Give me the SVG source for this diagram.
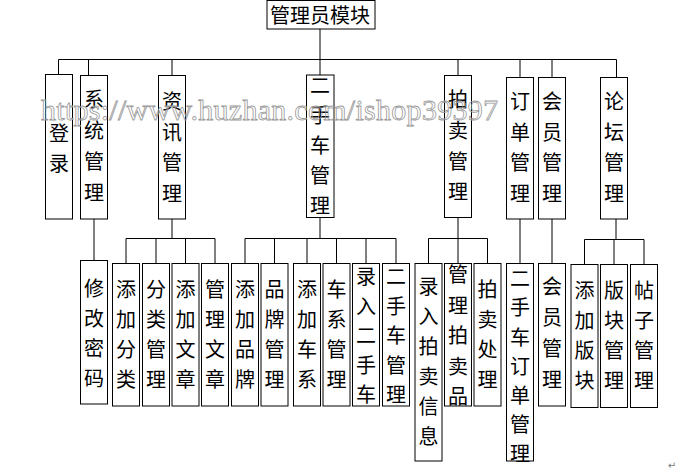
<svg xmlns="http://www.w3.org/2000/svg" width="693" height="472" viewBox="0 0 693 472">
<style>
.b{fill:#fff;stroke:#000;stroke-width:1}
.t{font-family:"Noto Sans CJK SC","Noto Sans CJK JP",sans-serif;font-size:20px;fill:#000;text-anchor:middle;dominant-baseline:central}
.c{fill:none;stroke:#000;stroke-width:1}
.wm{font-family:"Liberation Serif",serif;font-size:30px;fill:none;stroke:#999;stroke-width:0.8}
</style>
<rect width="693" height="472" fill="#fff"/>
<g id="connectors" class="c">
<path d="M320,29V75M58.5,59.5H616.5M58.5,59.5V74.5M88.5,59.5V75.5M172,59.5V75.5M458,59.5V75.5M520,59.5V77.5M552,59.5V77.5M616.5,59.5V77.5"/>
<path d="M94,219V260.5"/>
<path d="M172,219V238.5M126,238.5H215M126,238.5V263.5M156,238.5V263.5M185.5,238.5V263.5M215,238.5V263.5"/>
<path d="M320,217V238.5M245,238.5H396M245,238.5V263.5M274.5,238.5V263.5M307,238.5V263.5M336.5,238.5V263.5M366,238.5V263.5M396,238.5V263.5"/>
<path d="M458,217V263.5M428.5,238.5H487.5M428.5,238.5V263.5M487.5,238.5V263.5"/>
<path d="M520,219V263.5M552,219V263.5"/>
<path d="M616,219V239.5M584.5,239.5H644M584.5,239.5V264.5M614,239.5V264.5M644,239.5V264.5"/>
</g>
<g id="root"><rect class="b" x="267" y="0.5" width="108" height="28.5"/><text class="t" x="320" y="14">管理员模块</text></g>
<g id="n-login"><rect class="b" x="45.5" y="74.5" width="27" height="144.5"/><text class="t"><tspan x="59" y="131.5">登</tspan><tspan x="59" y="161.5">录</tspan></text></g>
<g id="n-sys"><rect class="b" x="80.5" y="75.5" width="27" height="143.5"/><text class="t"><tspan x="94" y="98">系</tspan><tspan x="94" y="129">统</tspan><tspan x="94" y="160">管</tspan><tspan x="94" y="191">理</tspan></text></g>
<g id="n-news"><rect class="b" x="158.5" y="75.5" width="27" height="143.5"/><text class="t"><tspan x="172" y="100">资</tspan><tspan x="172" y="131">讯</tspan><tspan x="172" y="161">管</tspan><tspan x="172" y="192">理</tspan></text></g>
<g id="n-car"><rect class="b" x="306.5" y="75" width="27.5" height="142.5"/><text class="t"><tspan x="320" y="84">二</tspan><tspan x="320" y="114">手</tspan><tspan x="320" y="144">车</tspan><tspan x="320" y="174">管</tspan><tspan x="320" y="203.5">理</tspan></text></g>
<g id="n-auction"><rect class="b" x="444.5" y="75.5" width="27" height="142"/><text class="t"><tspan x="458" y="98">拍</tspan><tspan x="458" y="129">卖</tspan><tspan x="458" y="160">管</tspan><tspan x="458" y="190">理</tspan></text></g>
<g id="n-order"><rect class="b" x="506.5" y="77.5" width="27" height="141.5"/><text class="t"><tspan x="520" y="100">订</tspan><tspan x="520" y="131">单</tspan><tspan x="520" y="161">管</tspan><tspan x="520" y="192">理</tspan></text></g>
<g id="n-member"><rect class="b" x="538.5" y="77.5" width="27" height="141.5"/><text class="t"><tspan x="552" y="100">会</tspan><tspan x="552" y="131">员</tspan><tspan x="552" y="161">管</tspan><tspan x="552" y="192">理</tspan></text></g>
<g id="n-forum"><rect class="b" x="600.5" y="77.5" width="27" height="141.5"/><text class="t"><tspan x="614" y="100">论</tspan><tspan x="614" y="131">坛</tspan><tspan x="614" y="161">管</tspan><tspan x="614" y="192">理</tspan></text></g>
<g id="n-pwd"><rect class="b" x="80.5" y="260.5" width="27" height="143.5"/><text class="t"><tspan x="94" y="287">修</tspan><tspan x="94" y="317">改</tspan><tspan x="94" y="347">密</tspan><tspan x="94" y="377">码</tspan></text></g>
<g id="n-addcat"><rect class="b" x="112.5" y="263.5" width="27" height="142.5"/><text class="t"><tspan x="126" y="288">添</tspan><tspan x="126" y="318">加</tspan><tspan x="126" y="348">分</tspan><tspan x="126" y="378">类</tspan></text></g>
<g id="n-catmgr"><rect class="b" x="142.5" y="263.5" width="27" height="142.5"/><text class="t"><tspan x="156" y="288">分</tspan><tspan x="156" y="318">类</tspan><tspan x="156" y="348">管</tspan><tspan x="156" y="378">理</tspan></text></g>
<g id="n-addart"><rect class="b" x="172" y="263.5" width="27" height="142.5"/><text class="t"><tspan x="185.5" y="288">添</tspan><tspan x="185.5" y="318">加</tspan><tspan x="185.5" y="348">文</tspan><tspan x="185.5" y="378">章</tspan></text></g>
<g id="n-artmgr"><rect class="b" x="201.5" y="263.5" width="27" height="142.5"/><text class="t"><tspan x="215" y="288">管</tspan><tspan x="215" y="318">理</tspan><tspan x="215" y="348">文</tspan><tspan x="215" y="378">章</tspan></text></g>
<g id="n-addbrand"><rect class="b" x="231.5" y="263.5" width="27" height="142.5"/><text class="t"><tspan x="245" y="288">添</tspan><tspan x="245" y="318">加</tspan><tspan x="245" y="348">品</tspan><tspan x="245" y="378">牌</tspan></text></g>
<g id="n-brandmgr"><rect class="b" x="261" y="263.5" width="27" height="142.5"/><text class="t"><tspan x="274.5" y="288">品</tspan><tspan x="274.5" y="318">牌</tspan><tspan x="274.5" y="348">管</tspan><tspan x="274.5" y="378">理</tspan></text></g>
<g id="n-addseries"><rect class="b" x="293.5" y="263.5" width="27" height="142.5"/><text class="t"><tspan x="307" y="288">添</tspan><tspan x="307" y="318">加</tspan><tspan x="307" y="348">车</tspan><tspan x="307" y="378">系</tspan></text></g>
<g id="n-seriesmgr"><rect class="b" x="323" y="263.5" width="27" height="142.5"/><text class="t"><tspan x="336.5" y="288">车</tspan><tspan x="336.5" y="318">系</tspan><tspan x="336.5" y="348">管</tspan><tspan x="336.5" y="378">理</tspan></text></g>
<g id="n-addcar"><rect class="b" x="352.5" y="263.5" width="27" height="142.5"/><text class="t"><tspan x="366" y="275">录</tspan><tspan x="366" y="304.5">入</tspan><tspan x="366" y="334">二</tspan><tspan x="366" y="363.5">手</tspan><tspan x="366" y="393">车</tspan></text></g>
<g id="n-carmgr"><rect class="b" x="382.5" y="263.5" width="27" height="142.5"/><text class="t"><tspan x="396" y="275">二</tspan><tspan x="396" y="304.5">手</tspan><tspan x="396" y="334">车</tspan><tspan x="396" y="363.5">管</tspan><tspan x="396" y="393">理</tspan></text></g>
<g id="n-addauction"><rect class="b" x="415" y="263.5" width="27" height="197.5"/><text class="t"><tspan x="428.5" y="285">录</tspan><tspan x="428.5" y="315">入</tspan><tspan x="428.5" y="345">拍</tspan><tspan x="428.5" y="375">卖</tspan><tspan x="428.5" y="405">信</tspan><tspan x="428.5" y="435">息</tspan></text></g>
<g id="n-auctionitems"><rect class="b" x="444.5" y="263.5" width="27" height="142.5"/><text class="t"><tspan x="458" y="273">管</tspan><tspan x="458" y="303.5">理</tspan><tspan x="458" y="334">拍</tspan><tspan x="458" y="364.5">卖</tspan><tspan x="458" y="395">品</tspan></text></g>
<g id="n-auctionproc"><rect class="b" x="474" y="263.5" width="27" height="142.5"/><text class="t"><tspan x="487.5" y="288">拍</tspan><tspan x="487.5" y="318">卖</tspan><tspan x="487.5" y="348">处</tspan><tspan x="487.5" y="378">理</tspan></text></g>
<g id="n-ordermgr"><rect class="b" x="506.5" y="263.5" width="27" height="197.5"/><text class="t"><tspan x="520" y="277">二</tspan><tspan x="520" y="306">手</tspan><tspan x="520" y="335.5">车</tspan><tspan x="520" y="364.5">订</tspan><tspan x="520" y="393.5">单</tspan><tspan x="520" y="422.5">管</tspan><tspan x="520" y="451.5">理</tspan></text></g>
<g id="n-membermgr"><rect class="b" x="538.5" y="263.5" width="27" height="142.5"/><text class="t"><tspan x="552" y="285">会</tspan><tspan x="552" y="316">员</tspan><tspan x="552" y="347">管</tspan><tspan x="552" y="378">理</tspan></text></g>
<g id="n-addboard"><rect class="b" x="571" y="264.5" width="27" height="143"/><text class="t"><tspan x="584.5" y="289">添</tspan><tspan x="584.5" y="319">加</tspan><tspan x="584.5" y="349">版</tspan><tspan x="584.5" y="379">块</tspan></text></g>
<g id="n-boardmgr"><rect class="b" x="600.5" y="264.5" width="27" height="143"/><text class="t"><tspan x="614" y="289">版</tspan><tspan x="614" y="319">块</tspan><tspan x="614" y="349">管</tspan><tspan x="614" y="379">理</tspan></text></g>
<g id="n-postmgr"><rect class="b" x="630.5" y="264.5" width="27" height="143"/><text class="t"><tspan x="644" y="289">帖</tspan><tspan x="644" y="319">子</tspan><tspan x="644" y="349">管</tspan><tspan x="644" y="379">理</tspan></text></g>
<text class="wm" x="41" y="120" textLength="457" lengthAdjust="spacing">https://www.huzhan.com/ishop39397</text>
<text x="672" y="469" font-family="DejaVu Sans,sans-serif" font-size="10" fill="#777" text-anchor="middle">↵</text>
</svg>
